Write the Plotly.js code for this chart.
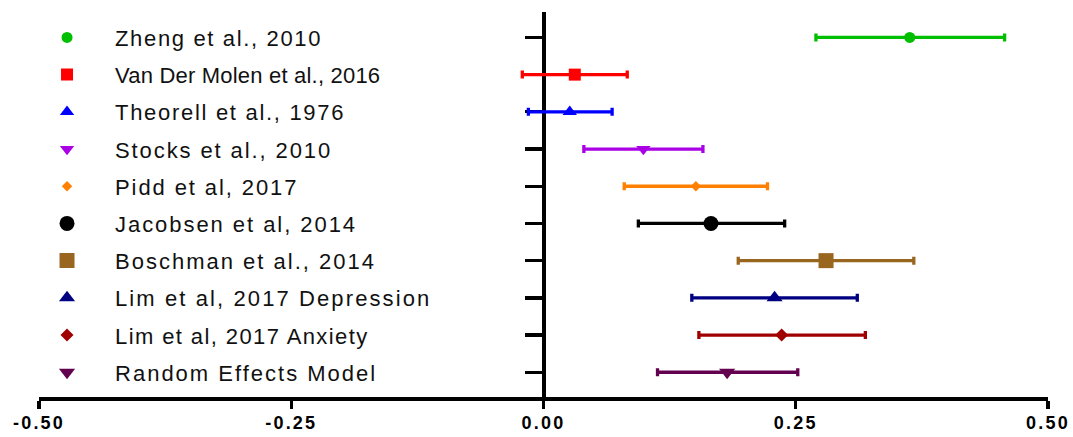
<!DOCTYPE html>
<html>
<head>
<meta charset="utf-8">
<script src="https://cdn.plot.ly/plotly-3.0.1.min.js"></script>
<style>
  html, body { margin: 0; padding: 0; background: #fff; }
  #chart { width: 1073px; height: 437px; }
  .legendtext { letter-spacing: 1.9px; }
  .xtick text { letter-spacing: 2.2px; }
</style>
</head>
<body>
<div id="chart"></div>
<script>
const studies = [
  "Zheng et al., 2010",
  "Van Der Molen et al., 2016",
  "Theorell et al., 1976",
  "Stocks et al., 2010",
  "Pidd et al, 2017",
  "Jacobsen et al, 2014",
  "Boschman et al., 2014",
  "Lim et al, 2017 Depression",
  "Lim et al, 2017 Anxiety",
  "Random Effects Model"
];
const effect = [0.363, 0.031, 0.026, 0.099, 0.151, 0.166, 0.280, 0.229, 0.236, 0.182];
const lower  = [0.270, -0.021, -0.015, 0.040, 0.080, 0.094, 0.193, 0.147, 0.154, 0.113];
const upper  = [0.457, 0.083, 0.068, 0.158, 0.222, 0.239, 0.367, 0.311, 0.319, 0.252];
const colors = ["#00BF00", "#FF0000", "#0000FF", "#AA00E6", "#FF8000",
                "#000000", "#99661F", "#000080", "#A00000", "#640050"];
const symbols = ["circle", "square", "triangle-up", "triangle-down", "diamond",
                 "circle", "square", "triangle-up", "diamond", "triangle-down"];
const sizes = [11, 12, 12.5, 12.5, 8, 15, 15, 14, 10, 14];
const legendSpacing = [1.65, 0.2, 1.7, 1.9, 1.9, 1.95, 2.0, 2.1, 1.4, 2.0];
const xTickVals = [-0.5, -0.25, 0, 0.25, 0.5];
const xTickText = ["-0.50", "-0.25", "0.00", "0.25", "0.50"];

const traces = studies.map((name, i) => ({
  type: "scatter",
  mode: "markers",
  name: name,
  legendgroup: "g" + i,
  x: [effect[i]],
  y: [name],
  marker: { symbol: symbols[i], size: sizes[i], color: colors[i] },
  error_x: {
    type: "data",
    symmetric: false,
    array: [upper[i] - effect[i]],
    arrayminus: [effect[i] - lower[i]],
    color: colors[i],
    thickness: 3.3,
    width: 4
  },
  hoverinfo: "x+name"
}));

const layout = {
  width: 1073,
  height: 437,
  margin: { l: 39, r: 25, t: 12, b: 40 },
  paper_bgcolor: "#ffffff",
  plot_bgcolor: "#ffffff",
  showlegend: true,
  legend: {
    x: -0.0198, xanchor: "left",
    y: 0.988, yanchor: "top",
    bgcolor: "rgba(0,0,0,0)",
    font: { family: "Liberation Sans, Arial, sans-serif", size: 22, color: "#111" },
    tracegroupgap: 5.6,
    itemwidth: 86,
    itemclick: false
  },
  xaxis: {
    range: [-0.5, 0.5],
    domain: [0, 1],
    tickmode: "array",
    tickvals: xTickVals,
    ticktext: xTickText,
    ticks: "outside",
    ticklen: 8,
    tickwidth: 3.3,
    tickcolor: "#000",
    ticklabelstandoff: -2,
    showline: true,
    linewidth: 4,
    linecolor: "#000",
    showgrid: false,
    zeroline: false,
    tickfont: { family: "Liberation Sans, Arial, sans-serif", size: 18, color: "#000", weight: "bold" },
    layer: "below traces",
    fixedrange: true
  },
  yaxis: {
    type: "category",
    categoryorder: "array",
    categoryarray: studies,
    range: [9.665, -0.683],
    anchor: "free",
    position: 0.5,
    side: "left",
    ticks: "outside",
    ticklen: 17,
    tickwidth: 3.3,
    tickcolor: "#000",
    showline: true,
    linewidth: 4,
    linecolor: "#000",
    showgrid: false,
    zeroline: false,
    showticklabels: false,
    layer: "below traces",
    fixedrange: true
  }
};

Plotly.newPlot("chart", traces, layout, { displayModeBar: false, staticPlot: true }).then(() => {
  document.querySelectorAll("#chart .legendtext").forEach(t => {
    const idx = studies.indexOf(t.textContent);
    if (idx >= 0) t.style.letterSpacing = legendSpacing[idx] + "px";
  });
});
</script>
</body>
</html>
